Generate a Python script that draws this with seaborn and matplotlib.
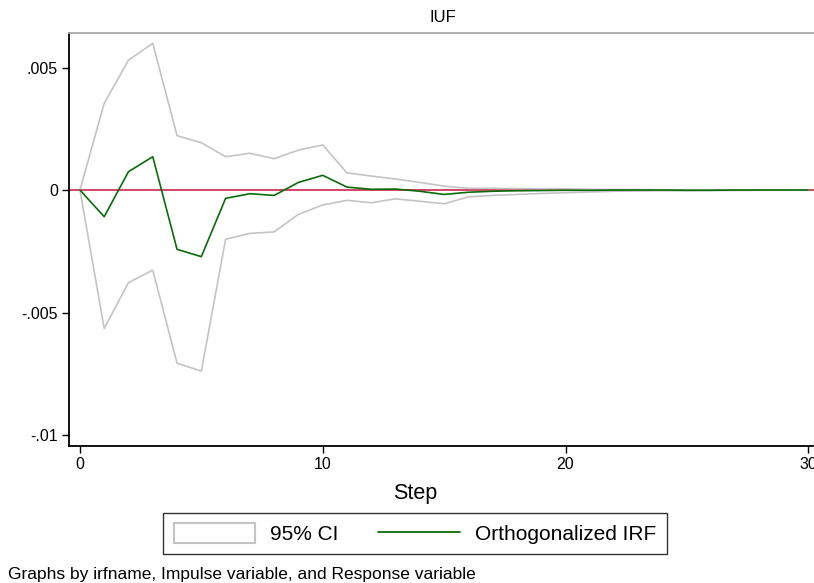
import numpy as np
import pandas as pd
import matplotlib
matplotlib.use("Agg")
import matplotlib.pyplot as plt
import seaborn as sns
from matplotlib.patches import Patch
from matplotlib.lines import Line2D

steps = list(range(31))
oirf = [0.0, -1.09, 0.75, 1.36, -2.42, -2.72, -0.34, -0.15, -0.22, 0.31, 0.60,
        0.12, 0.03, 0.04, -0.05, -0.18, -0.09, -0.05, -0.03, -0.02, -0.01,
        -0.01, 0.0, 0.0, 0.0, -0.01, -0.01, 0.0, 0.0, 0.0, 0.0]
upper = [0.0, 3.54, 5.30, 5.99, 2.22, 1.93, 1.36, 1.50, 1.28, 1.63, 1.84,
         0.70, 0.57, 0.45, 0.31, 0.16, 0.07, 0.07, 0.06, 0.05, 0.05,
         0.03, 0.02, 0.02, 0.01, 0.01, 0.01, 0.01, 0.01, 0.01, 0.01]
lower = [0.0, -5.65, -3.78, -3.27, -7.07, -7.39, -2.01, -1.77, -1.71, -0.99, -0.61,
         -0.42, -0.52, -0.36, -0.46, -0.56, -0.28, -0.22, -0.18, -0.14, -0.11,
         -0.08, -0.05, -0.04, -0.03, -0.03, -0.02, -0.02, -0.01, -0.01, -0.01]
scale = 1e-3
ytick_vals = [-0.01, -0.005, 0.0, 0.005]
ytick_labels = ["-.01", "-.005", "0", ".005"]
xtick_vals = [0, 10, 20, 30]

df = pd.DataFrame({
    "step": steps * 3,
    "value": [v * scale for v in lower + upper + oirf],
    "series": ["lower"] * 31 + ["upper"] * 31 + ["oirf"] * 31,
})

sns.set_theme(style="white")
plt.rcParams["font.family"] = ["Liberation Sans", "DejaVu Sans"]
plt.rcParams["text.color"] = "black"
plt.rcParams["xtick.color"] = "black"
plt.rcParams["ytick.color"] = "black"
plt.rcParams["axes.labelcolor"] = "black"

W, H = 814, 583
fig = plt.figure(figsize=(W / 100, H / 100), dpi=100)
left, right, top, bottom = 69, 818, 33, 446
ax = fig.add_axes([left / W, (H - bottom) / H, (right - left) / W, (bottom - top) / H])

gray = "#c4c4c4"
green = "#0b6b0b"
red = "#c8143c"

ax.axhline(0, color=red, lw=1.1, zorder=1)
sns.lineplot(data=df[df.series == "lower"], x="step", y="value", color=gray, lw=1.2, ax=ax, zorder=2)
sns.lineplot(data=df[df.series == "upper"], x="step", y="value", color=gray, lw=1.2, ax=ax, zorder=2)
sns.lineplot(data=df[df.series == "oirf"], x="step", y="value", color=green, lw=1.2, ax=ax, zorder=3)

ax.set_xlim(-0.45, 30.4)
ax.set_ylim(-0.010449, 0.00641)
ax.set_xticks(xtick_vals)
ax.set_xticklabels([str(v) for v in xtick_vals], fontsize=11.5)
ax.set_yticks(ytick_vals)
ax.set_yticklabels(ytick_labels, fontsize=11.5)
ax.tick_params(axis="both", direction="out", length=5, width=1, color="black",
               labelcolor="black", bottom=True, left=True, pad=3)
ax.set_xlabel("")
ax.set_ylabel("")

for s in ["left", "bottom"]:
    ax.spines[s].set_color("black")
    ax.spines[s].set_linewidth(1.3)
ax.spines["top"].set_color("#a8a8a8")
ax.spines["top"].set_linewidth(1.3)
ax.spines["right"].set_visible(False)

fig.text(443 / W, 1 - 18 / H, "IUF", ha="center", va="center", fontsize=12)
fig.text(415 / W, 1 - 493 / H, "Step", ha="center", va="center", fontsize=15.5)

handles = [Patch(facecolor="white", edgecolor=gray, lw=1.5),
           Line2D([0], [0], color=green, lw=1.3)]
leg = fig.legend(handles, ["95% CI", "Orthogonalized IRF"], loc="center",
                 bbox_to_anchor=(415 / W, 1 - 533.5 / H), ncol=2, frameon=True,
                 fontsize=15, fancybox=False, edgecolor="black", handlelength=3.9,
                 handleheight=1.1, columnspacing=1.9, borderpad=0.5, handletextpad=0.75)
leg.get_frame().set_linewidth(1.0)

fig.text(8 / W, 1 - 574 / H, "Graphs by irfname, Impulse variable, and Response variable",
         ha="left", va="center", fontsize=12.5)

fig.savefig("out.png", dpi=100)
